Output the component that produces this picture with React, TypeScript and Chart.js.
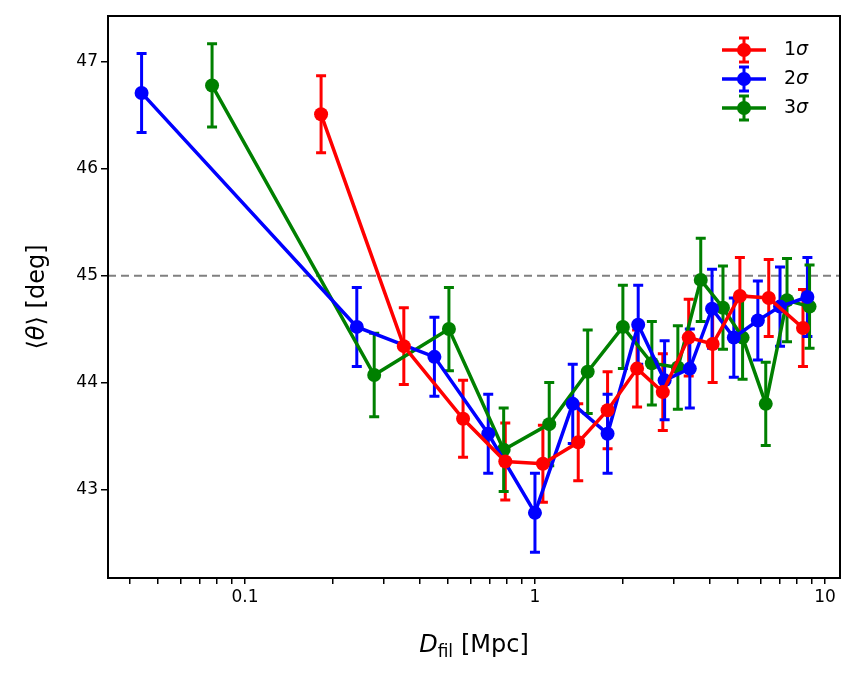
import React, { useEffect, useRef } from "react";
import { Chart, registerables } from "chart.js";
Chart.register(...registerables);

const redX = [0.183, 0.353, 0.565, 0.79, 1.065, 1.41, 1.78, 2.25, 2.76, 3.39, 4.1, 5.09, 6.4, 8.4];
const redY = [46.51, 44.34, 43.66, 43.26, 43.24, 43.44, 43.74, 44.13, 43.91, 44.42, 44.36, 44.81, 44.79, 44.51];
const redE = [0.36, 0.36, 0.36, 0.36, 0.36, 0.36, 0.36, 0.36, 0.36, 0.36, 0.36, 0.36, 0.36, 0.36];
const blueX = [0.044, 0.243, 0.45, 0.69, 1.0, 1.35, 1.78, 2.27, 2.8, 3.42, 4.08, 4.85, 5.87, 7.0, 8.7];
const blueY = [46.71, 44.52, 44.24, 43.52, 42.78, 43.8, 43.52, 44.54, 44.02, 44.13, 44.69, 44.42, 44.58, 44.71, 44.8];
const blueE = [0.37, 0.37, 0.37, 0.37, 0.37, 0.37, 0.37, 0.37, 0.37, 0.37, 0.37, 0.37, 0.37, 0.37, 0.37];
const greenX = [0.077, 0.279, 0.505, 0.78, 1.12, 1.52, 2.01, 2.53, 3.11, 3.73, 4.45, 5.2, 6.25, 7.4, 8.85];
const greenY = [46.78, 44.07, 44.5, 43.37, 43.61, 44.1, 44.52, 44.18, 44.14, 44.96, 44.7, 44.42, 43.8, 44.77, 44.71];
const greenE = [0.39, 0.39, 0.39, 0.39, 0.39, 0.39, 0.39, 0.39, 0.39, 0.39, 0.39, 0.39, 0.39, 0.39, 0.39];
const seriesLabels = ["1", "2", "3"];
const colors = ["#ff0000", "#0000ff", "#008000"];
const majorX = [0.1, 1, 10];
const yTicks = [43, 44, 45, 46, 47];
const refLine = 45;

const FONT = "'DejaVu Sans', sans-serif";

export default function App() {
  const ref = useRef<HTMLCanvasElement>(null);
  useEffect(() => {
    document.body.style.margin = "0";
    const xs = [redX, blueX, greenX];
    const ys = [redY, blueY, greenY];
    const es = [redE, blueE, greenE];
    const minor: number[] = [];
    [0.01, 0.1, 1, 10].forEach((d) => {
      for (let k = 2; k <= 9; k++) minor.push(d * k);
    });
    const errPlugin = {
      id: "err",
      beforeDatasetsDraw(c: any) {
        const ctx = c.ctx;
        const xsS = c.scales.x, ysS = c.scales.y;
        const ca = c.chartArea;
        ctx.save();
        // ref line
        ctx.strokeStyle = "#808080";
        ctx.lineWidth = 2;
        ctx.setLineDash([8, 5]);
        const py = ysS.getPixelForValue(refLine);
        ctx.beginPath();
        ctx.moveTo(ca.left, py);
        ctx.lineTo(ca.right, py);
        ctx.stroke();
        ctx.setLineDash([]);
        xs.forEach((xa, s) => {
          ctx.strokeStyle = colors[s];
          ctx.lineWidth = 3;
          xa.forEach((x, i) => {
            const px = xsS.getPixelForValue(x);
            const t = ysS.getPixelForValue(ys[s][i] + es[s][i]);
            const b = ysS.getPixelForValue(ys[s][i] - es[s][i]);
            ctx.beginPath();
            ctx.moveTo(px, t); ctx.lineTo(px, b);
            ctx.moveTo(px - 5, t); ctx.lineTo(px + 5, t);
            ctx.moveTo(px - 5, b); ctx.lineTo(px + 5, b);
            ctx.stroke();
          });
        });
        ctx.restore();
      },
      afterDraw(c: any) {
        const ctx = c.ctx;
        const ca = c.chartArea;
        ctx.save();
        ctx.fillStyle = "#000";
        // x title
        ctx.textBaseline = "alphabetic";
        const cx = (ca.left + ca.right) / 2;
        const by = 652;
        ctx.font = `italic 24px ${FONT}`;
        const wD = ctx.measureText("D").width;
        ctx.font = `italic 17px ${FONT}`;
        const wf = ctx.measureText("fil").width;
        ctx.font = `24px ${FONT}`;
        const wr = ctx.measureText(" [Mpc]").width;
        let sx = cx - (wD + wf + wr) / 2;
        ctx.textAlign = "left";
        ctx.font = `italic 24px ${FONT}`;
        ctx.fillText("D", sx, by);
        sx += wD;
        ctx.font = `17px ${FONT}`;
        ctx.fillText("fil", sx, by + 5);
        sx += wf;
        ctx.font = `24px ${FONT}`;
        ctx.fillText(" [Mpc]", sx, by);
        // y title
        ctx.translate(44, (ca.top + ca.bottom) / 2);
        ctx.rotate(-Math.PI / 2);
        const parts: [string, string][] = [["⟨", ""], ["θ", "italic "], ["⟩ [deg]", ""]];
        let tw = 0;
        parts.forEach(([t, st]) => { ctx.font = `${st}24px ${FONT}`; tw += ctx.measureText(t).width; });
        let ox = -tw / 2;
        parts.forEach(([t, st]) => {
          ctx.font = `${st}24px ${FONT}`;
          ctx.fillText(t, ox, 0);
          ox += ctx.measureText(t).width;
        });
        ctx.restore();
        // legend
        ctx.save();
        const lx = 722, ly0 = 50;
        seriesLabels.forEach((l, i) => {
          const ly = ly0 + i * 29;
          ctx.strokeStyle = colors[i];
          ctx.fillStyle = colors[i];
          ctx.lineWidth = 3.5;
          ctx.beginPath();
          ctx.moveTo(lx, ly); ctx.lineTo(lx + 44, ly);
          ctx.stroke();
          ctx.lineWidth = 3;
          ctx.beginPath();
          ctx.moveTo(lx + 22, ly - 12); ctx.lineTo(lx + 22, ly + 12);
          ctx.moveTo(lx + 17, ly - 12); ctx.lineTo(lx + 27, ly - 12);
          ctx.moveTo(lx + 17, ly + 12); ctx.lineTo(lx + 27, ly + 12);
          ctx.stroke();
          ctx.beginPath();
          ctx.arc(lx + 22, ly, 7, 0, Math.PI * 2);
          ctx.fill();
          ctx.fillStyle = "#000";
          ctx.textBaseline = "middle";
          ctx.textAlign = "left";
          ctx.font = `19px ${FONT}`;
          ctx.fillText(l, lx + 62, ly);
          const w = ctx.measureText(l).width;
          ctx.font = `italic 19px ${FONT}`;
          ctx.fillText("σ", lx + 62 + w, ly);
        });
        ctx.restore();
      },
    };
    const chart = new Chart(ref.current!, {
      type: "line",
      data: {
        datasets: xs.map((xa, s) => ({
          label: seriesLabels[s],
          data: xa.map((x, i) => ({ x, y: ys[s][i] })),
          borderColor: colors[s],
          backgroundColor: colors[s],
          borderWidth: 3.5,
          pointRadius: 7,
          pointHoverRadius: 7,
          pointBorderWidth: 0,
          tension: 0,
        })),
      },
      options: {
        animation: false,
        responsive: false,
        events: [],
        layout: { padding: { left: 0, right: 23, top: 16, bottom: 0 } },
        plugins: { legend: { display: false }, tooltip: { enabled: false } },
        scales: {
          x: {
            type: "logarithmic",
            min: 0.0337,
            max: 11.27,
            afterBuildTicks: (a: any) => {
              a.ticks = [...majorX, ...minor]
                .filter((v) => v >= 0.0337 && v <= 11.27)
                .map((v) => ({ value: v, major: majorX.includes(v) }));
            },
            afterFit: (a: any) => { a.height = 101; },
            ticks: {
              autoSkip: false,
              maxRotation: 0,
              color: "#000",
              font: { family: FONT, size: 17 },
              callback: (v: any) => (majorX.includes(Number(v)) ? String(v) : ""),
            },
            grid: { drawOnChartArea: false, drawTicks: true, tickLength: 6, color: "#000", lineWidth: 1.5 },
            border: { color: "#000", width: 2 },
          },
          y: {
            type: "linear",
            min: 42.17,
            max: 47.43,
            afterBuildTicks: (a: any) => { a.ticks = yTicks.map((v) => ({ value: v })); },
            afterFit: (a: any) => { a.width = 108; },
            ticks: { color: "#000", font: { family: FONT, size: 17 } },
            grid: { drawOnChartArea: false, drawTicks: true, tickLength: 7, color: "#000", lineWidth: 1.5 },
            border: { color: "#000", width: 2 },
          },
        },
      },
      plugins: [
        errPlugin,
        {
          id: "frame",
          afterDraw(c: any) {
            const { ctx, chartArea: ca } = c;
            ctx.save();
            ctx.strokeStyle = "#000";
            ctx.lineWidth = 2;
            ctx.strokeRect(ca.left, ca.top, ca.right - ca.left, ca.bottom - ca.top);
            ctx.restore();
          },
        },
      ],
    });
    return () => chart.destroy();
  }, []);
  return <canvas ref={ref} width={863} height={679} style={{ display: "block" }} />;
}
